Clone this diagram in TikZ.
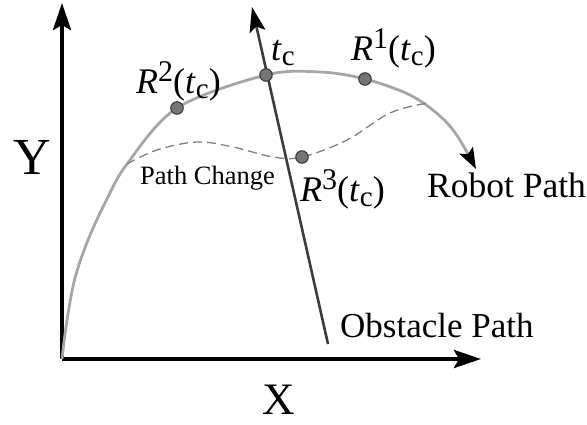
\documentclass[tikz,border=0pt]{standalone}
\usepackage{fontspec}
\setmainfont{Liberation Serif}
\usetikzlibrary{arrows.meta}
\definecolor{robotgray}{HTML}{A6A6A6}
\definecolor{obstgray}{HTML}{3C3C3C}
\definecolor{dashgray}{HTML}{808080}
\definecolor{dotfill}{HTML}{757575}
\newcommand\fs[1]{\fontsize{#1}{#1}\selectfont}
\newcommand\Rlab[1]{\textit{R}\raisebox{0.36em}{\fs{30}#1}(\textit{t}\raisebox{-0.12em}{\fs{29}c})}
\tikzset{
  axis/.style={line width=4pt, -{Stealth[length=27pt,width=18pt,inset=5pt]}},
  robot/.style={robotgray, line width=2.8pt},
  obst/.style={obstgray, line width=2.6pt, -{Stealth[black,length=25pt,width=16pt,inset=5pt]}},
  changed/.style={dashgray, line width=1.3pt, dash pattern=on 9pt off 5pt},
  pt/.style={circle, fill=dotfill, draw=black!80, line width=1pt, inner sep=0pt, minimum size=12.5pt},
  lab/.style={inner sep=0pt, anchor=base west},
}
\begin{document}
\begin{tikzpicture}[x=1pt,y=-1pt]
\useasboundingbox (0,0) rectangle (587,425);
% axes
\coordinate (O) at (62,359);
\coordinate (Ytip) at (62,3);
\coordinate (Xtip) at (481,359);
\draw[axis] (O) -- (Ytip);
\draw[axis] (O) -- (Xtip);
% robot path
\coordinate (branch1) at (127,164);
\coordinate (branch2) at (428,103);
\draw[robot, -{Stealth[black,length=21pt,width=15pt,inset=4pt]}] plot[smooth, tension=0.55] coordinates {(62,359) (67,320) (75,278) (88,240) (106,201) (127,164) (177,108) (266,75) (320,72) (365,79) (410,95) (440,116) (458,137) (476,169)};
% changed path
\draw[changed] plot[smooth, tension=0.6] coordinates {(branch1) (157,150) (197,142) (233,147) (273,157) (302,157) (347,140) (390,113) (branch2)};
% obstacle path
\coordinate (obstart) at (328,344);
\coordinate (obend) at (252,7);
\draw[obst] (obstart) -- (obend);
% points
\node[pt] (r2) at (177,108) {};
\node[pt] (tc) at (266,75) {};
\node[pt] (r1) at (365,79) {};
\node[pt] (r3) at (302,157) {};
% labels
\node[lab, font=\fs{36}] (lr2) at (136,94) {\Rlab{2}};
\node[lab, font=\fs{36}] (lr1) at (351,61) {\Rlab{1}};
\node[lab, font=\fs{36}] (lr3) at (300,202) {\Rlab{3}};
\node[lab, font=\fs{36}] (ltc) at (271,61) {\textit{t}\raisebox{-0.12em}{\fs{29}c}};
\node[lab, font=\fs{26.5}] (lpc) at (140,185) {Path Change};
\node[lab, font=\fs{35.5}] (lrp) at (427,198) {Robot Path};
\node[lab, font=\fs{35}] (lop) at (340,337) {Obstacle Path};
\node[lab, font=\fs{52}] (ly) at (13,175) {Y};
\node[lab, font=\fs{45}] (lx) at (262,414) {X};
\end{tikzpicture}
\end{document}
